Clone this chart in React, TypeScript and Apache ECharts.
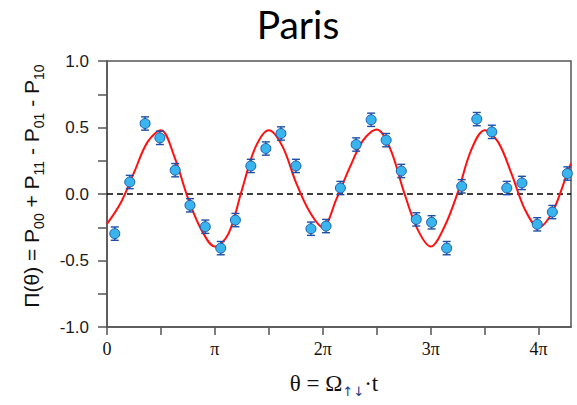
import React, { useEffect, useRef } from 'react';
import * as echarts from 'echarts';

// measured points: theta in units of pi, value of Pi(theta)
const thetaPi = [
  0.072, 0.211, 0.353, 0.49, 0.632, 0.769, 0.911, 1.054, 1.19, 1.333, 1.472,
  1.612, 1.751, 1.89, 2.03, 2.163, 2.309, 2.448, 2.587, 2.727, 2.866, 3.008,
  3.148, 3.287, 3.427, 3.566, 3.705, 3.845, 3.987, 4.127, 4.266,
];
const piValues = [
  -0.298, 0.09, 0.53, 0.422, 0.179, -0.085, -0.246, -0.407, -0.196, 0.211, 0.342,
  0.455, 0.211, -0.261, -0.241, 0.045, 0.372, 0.558, 0.405, 0.173, -0.191, -0.213,
  -0.407, 0.058, 0.563, 0.467, 0.045, 0.083, -0.228, -0.136, 0.154,
];
const errValues = [
  0.05, 0.05, 0.05, 0.05, 0.05, 0.05, 0.05, 0.05, 0.05, 0.05, 0.05,
  0.05, 0.05, 0.05, 0.05, 0.05, 0.05, 0.05, 0.05, 0.05, 0.05, 0.05,
  0.05, 0.05, 0.05, 0.05, 0.05, 0.05, 0.05, 0.05, 0.05,
];

// fitted curve
const fitThetaPi = [
  0, 0.125, 0.25, 0.375, 0.5, 0.625, 0.75, 0.875, 1, 1.125, 1.25, 1.375, 1.5,
  1.625, 1.75, 1.875, 2, 2.125, 2.25, 2.375, 2.5, 2.625, 2.75, 2.875, 3, 3.125,
  3.25, 3.375, 3.5, 3.625, 3.75, 3.875, 4, 4.125, 4.25, 4.3,
];
const fitValues = [
  -0.225, -0.07, 0.16, 0.39, 0.48, 0.28, -0.03, -0.27, -0.395, -0.3, 0.03, 0.35, 0.48,
  0.36, 0.09, -0.13, -0.25, -0.04, 0.2, 0.405, 0.485, 0.34, 0.02, -0.26, -0.395, -0.25,
  0.01, 0.33, 0.48, 0.39, 0.15, -0.12, -0.25, -0.14, 0.12, 0.23,
];

const xTickValues = [0, 0.5, 1, 1.5, 2, 2.5, 3, 3.5, 4];
const xLabelValues = [0, 1, 2, 3, 4];
const xTickLabels = ['0', 'π', '2π', '3π', '4π'];
const yLabelValues = [-1, -0.5, 0, 0.5, 1];
const yTickLabels = ['-1.0', '-0.5', '0.0', '0.5', '1.0'];

const X_MAX = 4.3;

export default function App() {
  const ref = useRef<HTMLDivElement>(null);
  useEffect(() => {
    document.body.style.margin = '0';
    const chart = echarts.init(ref.current!, null, { renderer: 'svg' });
    const pts = thetaPi.map((t, i) => [t, piValues[i], errValues[i]]);
    const axisColor = '#555';
    chart.setOption({
      animation: false,
      grid: {
        left: 107,
        right: 6,
        top: 61,
        bottom: 78,
        show: true,
        borderColor: axisColor,
        borderWidth: 1.5,
        backgroundColor: 'transparent',
      },
      graphic: [
        {
          type: 'text',
          x: 298,
          y: 24,
          style: {
            text: 'Paris',
            font: '39px Lato, "Open Sans", sans-serif',
            fill: '#000',
            align: 'center',
            verticalAlign: 'middle',
          },
        },
        {
          type: 'text',
          x: 31,
          y: 186,
          rotation: Math.PI / 2,
          style: {
            text: '{m|Π(θ) = P}{s|00}{m| + P}{s|11}{m| - P}{s|01}{m| - P}{s|10}',
            align: 'center',
            verticalAlign: 'middle',
            fill: '#111',
            rich: {
              m: {
                fontSize: 21,
                fontFamily: '"Liberation Sans", Arial, sans-serif',
                lineHeight: 30,
                verticalAlign: 'middle',
                fill: '#111',
              },
              s: {
                fontSize: 14,
                fontFamily: '"Liberation Sans", Arial, sans-serif',
                lineHeight: 14,
                verticalAlign: 'bottom',
                fill: '#111',
              },
            },
          },
        },
        {
          type: 'text',
          x: 334,
          y: 383,
          style: {
            text: '{m|θ = Ω}{s|↑↓}{m|·t}',
            align: 'center',
            verticalAlign: 'middle',
            fill: '#111',
            rich: {
              m: {
                fontSize: 23,
                fontFamily: '"Liberation Serif", "Times New Roman", serif',
                lineHeight: 30,
                verticalAlign: 'middle',
                fill: '#111',
              },
              s: {
                fontSize: 13,
                fontFamily: '"DejaVu Sans", sans-serif',
                lineHeight: 13,
                verticalAlign: 'bottom',
                fill: '#1a3c8c',
              },
            },
          },
        },
      ],
      xAxis: {
        type: 'value',
        min: 0,
        max: X_MAX,
        interval: 0.5,
        splitLine: { show: false },
        axisLine: { show: true, onZero: false, lineStyle: { color: axisColor, width: 1.5 } },
        axisTick: {
          show: true,
          length: 8,
          inside: false,
          customValues: xTickValues,
          lineStyle: { color: axisColor, width: 1.5 },
        },
        axisLabel: {
          customValues: xLabelValues,
          margin: 13,
          fontSize: 18,
          fontFamily: '"Liberation Serif", "Times New Roman", serif',
          color: '#111',
          formatter: (v: number) => {
            const i = xLabelValues.findIndex((t) => Math.abs(t - v) < 1e-6);
            return i < 0 ? '' : xTickLabels[i];
          },
        },
      },
      yAxis: {
        type: 'value',
        min: -1,
        max: 1,
        interval: 0.25,
        splitLine: { show: false },
        axisLine: { show: true, onZero: false, lineStyle: { color: axisColor, width: 1.5 } },
        axisTick: { show: true, length: 9, inside: false, lineStyle: { color: axisColor, width: 1.5 } },
        axisLabel: {
          margin: 18,
          fontSize: 17,
          fontFamily: '"Liberation Sans", Arial, sans-serif',
          color: '#1a1a1a',
          formatter: (v: number) => {
            const i = yLabelValues.findIndex((t) => Math.abs(t - v) < 1e-6);
            return i < 0 ? '' : yTickLabels[i];
          },
        },
      },
      series: [
        {
          type: 'line',
          data: [
            [0, 0],
            [X_MAX, 0],
          ],
          showSymbol: false,
          silent: true,
          z: 1,
          lineStyle: { color: '#000', width: 1.5, type: [6, 4] },
        },
        {
          type: 'line',
          data: fitThetaPi.map((t, i) => [t, fitValues[i]]),
          smooth: 0.35,
          showSymbol: false,
          silent: true,
          z: 2,
          lineStyle: { color: '#ff1010', width: 2 },
        },
        {
          type: 'custom',
          z: 3,
          data: pts,
          renderItem: (params: any, api: any) => {
            const x = api.value(0);
            const y = api.value(1);
            const e = api.value(2);
            const top = api.coord([x, y + e]);
            const bot = api.coord([x, y - e]);
            const w = 4;
            const style = { stroke: '#1e4ea6', lineWidth: 1.4, fill: 'none' };
            return {
              type: 'group',
              children: [
                { type: 'line', shape: { x1: top[0], y1: top[1], x2: bot[0], y2: bot[1] }, style },
                { type: 'line', shape: { x1: top[0] - w, y1: top[1], x2: top[0] + w, y2: top[1] }, style },
                { type: 'line', shape: { x1: bot[0] - w, y1: bot[1], x2: bot[0] + w, y2: bot[1] }, style },
              ],
            };
          },
        },
        {
          type: 'scatter',
          z: 4,
          data: pts.map((p) => [p[0], p[1]]),
          symbol: 'circle',
          symbolSize: 10,
          itemStyle: { color: '#3ab4ec', borderColor: '#1a5cb0', borderWidth: 1, opacity: 1 },
        },
      ],
    });
    return () => chart.dispose();
  }, []);
  return <div ref={ref} style={{ width: 577, height: 405 }} />;
}
